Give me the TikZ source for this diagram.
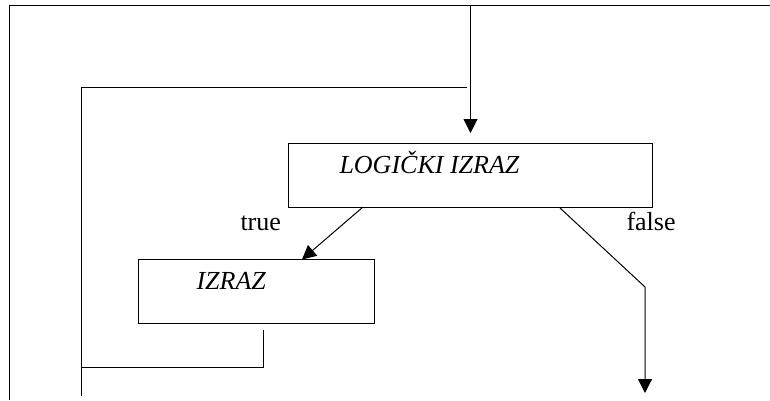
\documentclass[tikz,border=0pt]{standalone}
\usepackage{fontspec}
\setmainfont{Liberation Serif}
\usetikzlibrary{arrows.meta}
\begin{document}
\begin{tikzpicture}[x=1pt,y=-1pt,line width=1pt,
  box/.style={draw,rectangle,inner sep=0pt},
  lbl/.style={font=\fontsize{26}{30}\selectfont,anchor=base west,inner sep=0pt},
  tip/.style={-{Triangle[length=14pt,width=14pt]}}]
\useasboundingbox (0,0) rectangle (770,400);
% frame
\coordinate (fbl) at (9,400);
\coordinate (ftl) at (9,5);
\coordinate (ftr) at (770,5);
\draw (fbl) -- (ftl) -- (ftr);
% boxes
\node[box,minimum width=364pt,minimum height=64pt] (logic) at (470,175) {};
\node[box,minimum width=235.5pt,minimum height=64pt] (izraz) at (256.25,291.5) {};
% texts
\node[lbl] (tlogic) at (339,173) {\itshape LOGIČKI IZRAZ};
\node[lbl] (tizraz) at (196,289) {\itshape IZRAZ};
\node[lbl] (ttrue) at (240,230) {true};
\node[lbl] (tfalse) at (626,230.5) {false};
% entry arrow
\coordinate (entry) at (470.5,5);
\coordinate (entrytip) at (470.5,133);
\draw[tip] (entry) -- (entrytip);
% loop back
\coordinate (loopend) at (467,87);
\coordinate (loopcorner) at (81,87);
\coordinate (loopbottom) at (81,396);
\draw (loopend) -- (loopcorner) -- (loopbottom);
\coordinate (retstart) at (263.5,330);
\coordinate (retcorner) at (263.5,367);
\coordinate (retend) at (82,367);
\draw (retstart) -- (retcorner) -- (retend);
% true branch
\coordinate (tstart) at (363,207);
\coordinate (tend) at (302,259.5);
\draw[tip] (tstart) -- (tend);
% false branch
\coordinate (fstart) at (560,208);
\coordinate (fbend) at (645,287);
\coordinate (fend) at (645,393);
\draw[tip] (fstart) -- (fbend) -- (fend);
\end{tikzpicture}
\end{document}
